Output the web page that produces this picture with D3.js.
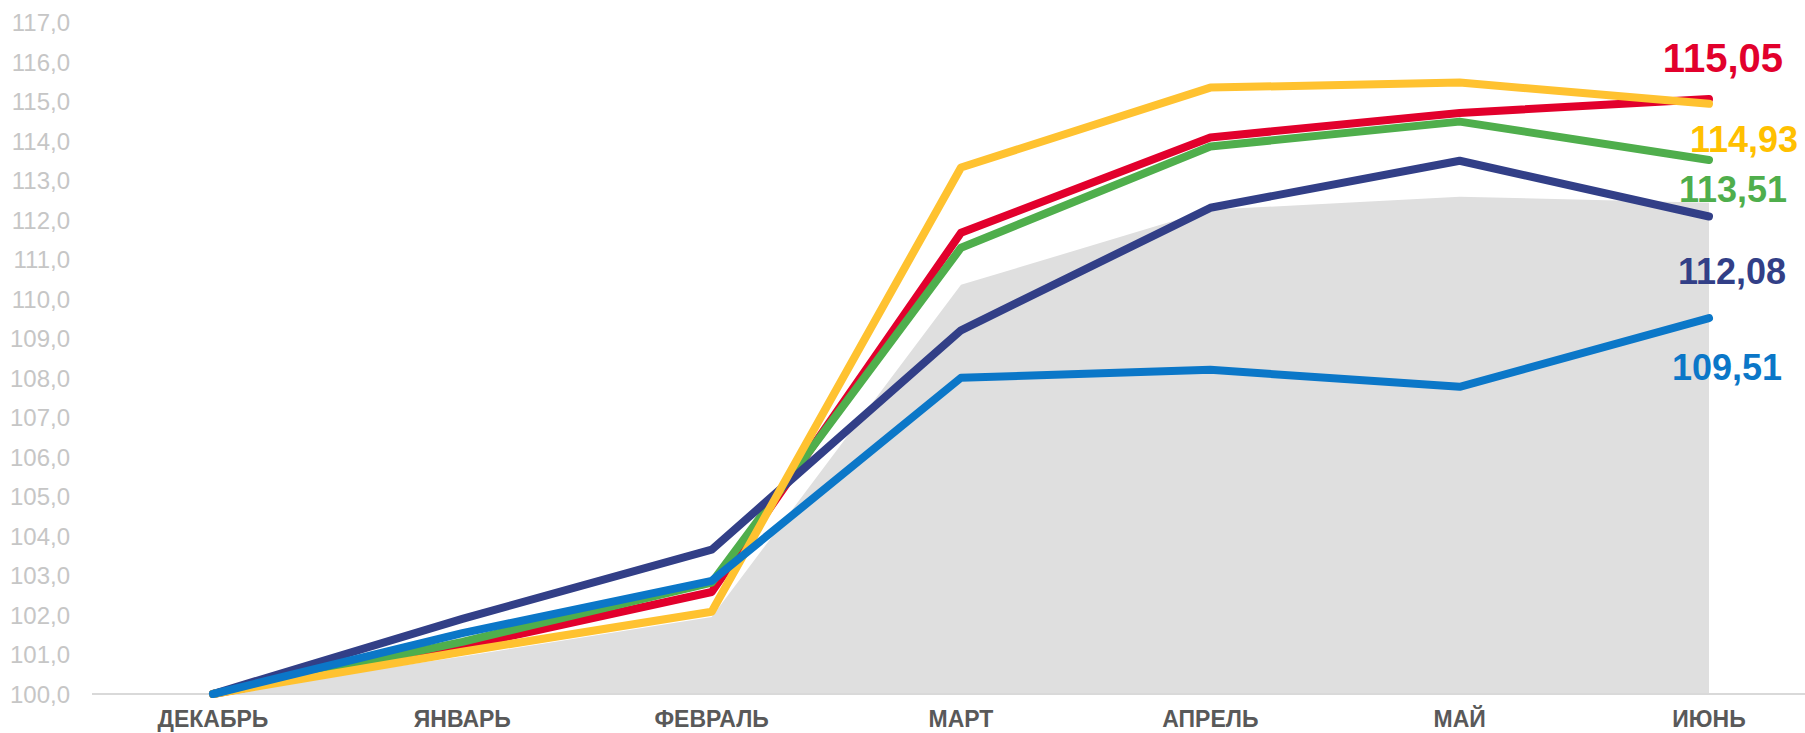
<!DOCTYPE html>
<html>
<head>
<meta charset="utf-8">
<script src="https://cdn.jsdelivr.net/npm/d3@7"></script>
<style>
  body { margin: 0; background: #fff; }
  svg { display: block; font-family: "Liberation Sans", Arial, sans-serif; }
</style>
</head>
<body>
<svg id="chart" width="1805" height="733"></svg>
<script>
// months on the x axis
var months = ["ДЕКАБРЬ", "ЯНВАРЬ", "ФЕВРАЛЬ", "МАРТ", "АПРЕЛЬ", "МАЙ", "ИЮНЬ"];
var yTicks = [100, 101, 102, 103, 104, 105, 106, 107, 108, 109, 110, 111, 112, 113, 114, 115, 116, 117];

// grey background series
var areaValues = [100, 100.95, 101.95, 110.35, 112.25, 112.58, 112.43];

// line series (drawn in this order, last on top)
var redValues    = [100, 101.2, 102.58, 111.67, 114.08, 114.7, 115.05];
var greenValues  = [100, 101.32, 102.82, 111.29, 113.85, 114.48, 113.51];
var navyValues   = [100, 101.9, 103.65, 109.2, 112.3, 113.49, 112.08];
var yellowValues = [100, 101.07, 102.08, 113.32, 115.34, 115.47, 114.93];
var blueValues   = [100, 101.54, 102.86, 108.0, 108.2, 107.77, 109.51];

var series = [
    { values: redValues,    color: "#e2002c", label: "115,05", size: 40, dy: -27, dx: 74 },
    { values: greenValues,  color: "#4fae4c", label: "113,51", size: 36, dy: 42,  dx: 78 },
    { values: navyValues,   color: "#323f87", label: "112,08", size: 36, dy: 68,  dx: 77 },
    { values: yellowValues, color: "#ffc230", label: "114,93", size: 36, dy: 48,  dx: 89 },
    { values: blueValues,   color: "#0b77c8", label: "109,51", size: 36, dy: 62,  dx: 73 }
];
var labelColors = { "114,93": "#ffc000" };

var svg = d3.select("#chart");

var x = d3.scalePoint().domain(months).range([213, 1709]);
var y = d3.scaleLinear().domain([100, 117]).range([694, 22]);

// y tick labels, no axis line
svg.append("g").selectAll("text")
    .data(yTicks)
    .enter().append("text")
    .attr("x", 70)
    .attr("y", function (d) { return y(d) + 9; })
    .attr("text-anchor", "end")
    .style("font-size", "24px")
    .style("fill", "#c6c6c6")
    .text(function (d) { return d3.format(".1f")(d).replace(".", ","); });

// grey area
var area = d3.area()
    .x(function (d, i) { return x(months[i]); })
    .y0(y(100))
    .y1(function (d) { return y(d); });

svg.append("path")
    .datum(areaValues)
    .attr("d", area)
    .style("fill", "#dfdfdf");

// horizontal axis line
svg.append("line")
    .attr("x1", 92).attr("x2", 1805)
    .attr("y1", y(100)).attr("y2", y(100))
    .style("stroke", "#d9d9d9")
    .style("stroke-width", 2);

// month labels
svg.append("g").selectAll("text")
    .data(months)
    .enter().append("text")
    .attr("x", function (d) { return x(d); })
    .attr("y", 727)
    .attr("text-anchor", "middle")
    .style("font-size", "23px")
    .style("font-weight", "bold")
    .style("fill", "#595959")
    .text(function (d) { return d; });

var line = d3.line()
    .x(function (d, i) { return x(months[i]); })
    .y(function (d) { return y(d); });

series.forEach(function (s) {
    svg.append("path")
        .datum(s.values)
        .attr("d", line)
        .style("fill", "none")
        .style("stroke", s.color)
        .style("stroke-width", 8)
        .style("stroke-linecap", "round")
        .style("stroke-linejoin", "round");
});

// end value labels
series.forEach(function (s) {
    var last = s.values[s.values.length - 1];
    svg.append("text")
        .attr("x", x(months[months.length - 1]) + s.dx)
        .attr("y", y(last) + s.dy)
        .attr("text-anchor", "end")
        .style("font-size", s.size + "px")
        .style("font-weight", "bold")
        .style("fill", labelColors[s.label] || s.color)
        .text(s.label);
});
</script>
</body>
</html>
